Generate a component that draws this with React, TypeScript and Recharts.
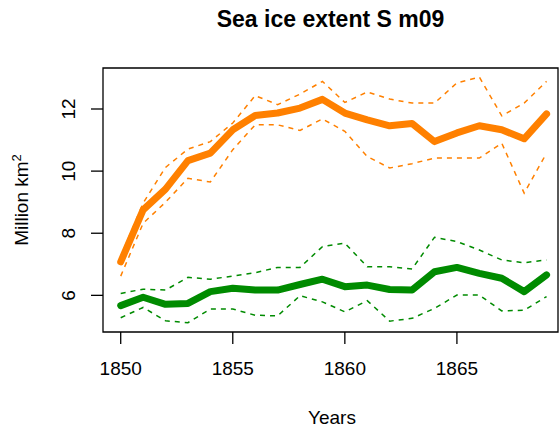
import React from 'react'
import { LineChart, Line, XAxis, YAxis, ReferenceArea } from 'recharts'

const years = [1850, 1851, 1852, 1853, 1854, 1855, 1856, 1857, 1858, 1859, 1860, 1861, 1862, 1863, 1864, 1865, 1866, 1867, 1868, 1869]

const orangeMean = [7.08, 8.75, 9.42, 10.34, 10.58, 11.33, 11.79, 11.87, 12.03, 12.31, 11.87, 11.65, 11.46, 11.53, 10.95, 11.23, 11.46, 11.33, 11.04, 11.84]
const orangeUpper = [7.25, 8.97, 10.12, 10.71, 10.95, 11.55, 12.43, 12.14, 12.48, 12.89, 12.21, 12.55, 12.32, 12.19, 12.19, 12.84, 13.03, 11.78, 12.19, 12.89]
const orangeLower = [6.62, 8.32, 9.0, 9.77, 9.65, 10.69, 11.49, 11.49, 11.31, 11.68, 11.28, 10.47, 10.1, 10.24, 10.42, 10.42, 10.42, 10.9, 9.29, 10.58]

const greenMean = [5.67, 5.94, 5.71, 5.74, 6.12, 6.23, 6.17, 6.17, 6.35, 6.52, 6.28, 6.33, 6.19, 6.17, 6.76, 6.9, 6.71, 6.55, 6.12, 6.66]
const greenUpper = [6.06, 6.2, 6.17, 6.58, 6.52, 6.62, 6.73, 6.9, 6.9, 7.57, 7.68, 6.92, 6.92, 6.85, 7.87, 7.73, 7.46, 7.14, 7.05, 7.14]
const greenLower = [5.28, 5.61, 5.18, 5.12, 5.56, 5.56, 5.36, 5.34, 5.99, 5.79, 5.47, 5.83, 5.17, 5.26, 5.58, 6.01, 6.01, 5.5, 5.52, 5.96]

const xTicks = [1850, 1855, 1860, 1865]
const yTicks = [6, 8, 10, 12]

const ORANGE = '#FF8000'
const GREEN = '#008B00'
const FONT = '"Liberation Sans", Arial, sans-serif'

const data = years.map((yr, i) => ({
  year: yr,
  oMean: orangeMean[i],
  oUp: orangeUpper[i],
  oLo: orangeLower[i],
  gMean: greenMean[i],
  gUp: greenUpper[i],
  gLo: greenLower[i],
}))

const X_DOMAIN: [number, number] = [1849.21, 1869.51]
const Y_DOMAIN: [number, number] = [4.82, 13.32]

function YTick(props: any) {
  const { y, payload } = props
  return (
    <text x={75} y={y} transform={`rotate(-90, 75, ${y})`} textAnchor="middle" fontSize={19} fontFamily={FONT} fill="#000">
      {payload.value}
    </text>
  )
}

export default function App() {
  const dashed = { strokeWidth: 1.5, strokeDasharray: '5 5', dot: false, isAnimationActive: false, type: 'linear' as const }
  const thick = { strokeWidth: 7, dot: false, isAnimationActive: false, type: 'linear' as const, strokeLinecap: 'round' as const, strokeLinejoin: 'round' as const }
  return (
    <div style={{ position: 'absolute', left: 0, top: 0, width: 560, height: 428, background: '#fff' }}>
      <svg width={560} height={40} style={{ position: 'absolute', left: 0, top: 0 }}>
        <text x={330.5} y={27} textAnchor="middle" fontSize={23} fontWeight="bold" fontFamily={FONT} fill="#000">
          Sea ice extent S m09
        </text>
      </svg>
      <LineChart width={560} height={428} data={data} margin={{ top: 68, right: 2, bottom: 60, left: 0 }}>
        <XAxis
          dataKey="year"
          type="number"
          domain={X_DOMAIN}
          allowDataOverflow
          ticks={xTicks}
          axisLine={false}
          tickLine={{ stroke: '#000', strokeWidth: 1.3 }}
          tickSize={12}
          tickMargin={18}
          height={36}
          tick={{ fill: '#000', fontSize: 19, fontFamily: FONT }}
          label={{
            content: () => (
              <text x={332} y={424} textAnchor="middle" fontSize={19} fontFamily={FONT} fill="#000">
                Years
              </text>
            ),
          }}
        />
        <YAxis
          type="number"
          domain={Y_DOMAIN}
          allowDataOverflow
          ticks={yTicks}
          width={103}
          axisLine={false}
          tickLine={{ stroke: '#000', strokeWidth: 1.3 }}
          tickSize={12}
          tick={<YTick />}
          label={{
            content: () => (
              <text x={28} y={200} transform="rotate(-90, 28, 200)" textAnchor="middle" fontSize={19} fontFamily={FONT} fill="#000">
                Million km<tspan fontSize={13} dy={-7}>2</tspan>
              </text>
            ),
          }}
        />
        <ReferenceArea x1={X_DOMAIN[0]} x2={X_DOMAIN[1]} y1={Y_DOMAIN[0]} y2={Y_DOMAIN[1]} fill="none" stroke="#000" strokeWidth={1.3} ifOverflow="visible" />
        <Line dataKey="oUp" stroke={ORANGE} {...dashed} />
        <Line dataKey="oLo" stroke={ORANGE} {...dashed} />
        <Line dataKey="oMean" stroke={ORANGE} {...thick} />
        <Line dataKey="gUp" stroke={GREEN} {...dashed} />
        <Line dataKey="gLo" stroke={GREEN} {...dashed} />
        <Line dataKey="gMean" stroke={GREEN} {...thick} />
      </LineChart>
    </div>
  )
}
